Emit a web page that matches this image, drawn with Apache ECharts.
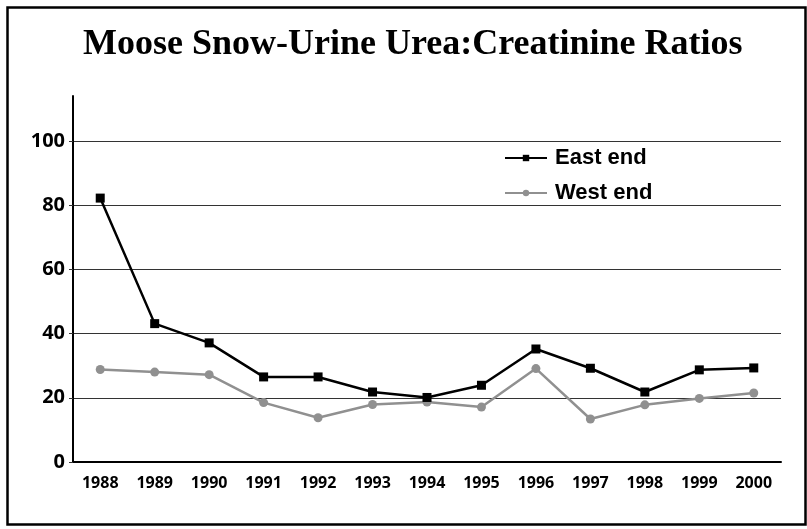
<!DOCTYPE html>
<html>
<head>
<meta charset="utf-8">
<script src="https://cdn.jsdelivr.net/npm/echarts@6/dist/echarts.min.js"></script>
<style>
html,body{margin:0;padding:0;background:#fff;}
#chart{width:807px;height:529px;}
</style>
</head>
<body>
<div id="chart"></div>
<script>
var years = ['1988','1989','1990','1991','1992','1993','1994','1995','1996','1997','1998','1999','2000'];
var eastEnd = [82.2, 43.1, 37.1, 26.5, 26.5, 21.8, 20.1, 23.9, 35.2, 29.2, 21.8, 28.7, 29.3];
var westEnd = [28.8, 28.0, 27.2, 18.5, 13.8, 17.9, 18.7, 17.1, 29.1, 13.4, 17.8, 19.8, 21.5];
var seriesNames = ['East end', 'West end'];
var titleText = 'Moose Snow-Urine Urea:Creatinine Ratios';

var chart = echarts.init(document.getElementById('chart'), null, {renderer: 'canvas'});
var option = {
  backgroundColor: '#fff',
  animation: false,
  title: {
    text: titleText,
    left: 83,
    top: 27,
    padding: 0,
    textStyle: {
      fontFamily: '"Liberation Serif", "DejaVu Serif", serif',
      fontWeight: 'bold',
      fontSize: 36,
      color: '#000'
    }
  },
  legend: {
    orient: 'vertical',
    left: 504,
    top: 147,
    padding: 0,
    itemWidth: 42,
    itemHeight: 8,
    itemGap: 13,
    data: seriesNames,
    textStyle: {
      fontFamily: 'Arial, "Liberation Sans", sans-serif',
      fontWeight: 'bold',
      fontSize: 22,
      lineHeight: 22,
      color: '#000',
      padding: [0, 0, 0, 3]
    }
  },
  grid: {
    left: 73,
    right: 26,
    top: 96,
    bottom: 67,
    containLabel: false
  },
  xAxis: {
    type: 'category',
    data: years,
    boundaryGap: true,
    axisLine: {show: true, lineStyle: {color: '#000', width: 2}},
    axisTick: {show: false},
    axisLabel: {
      margin: 13,
      fontFamily: '"Open Sans", "Noto Sans", sans-serif',
      fontWeight: 'bold',
      fontSize: 16,
      color: '#000'
    },
    splitLine: {show: false}
  },
  yAxis: {
    type: 'value',
    min: 0,
    max: 114,
    interval: 20,
    axisLine: {show: true, lineStyle: {color: '#000', width: 2}},
    axisTick: {show: true, length: 4, lineStyle: {color: '#333', width: 1}},
    axisLabel: {
      margin: 8,
      showMaxLabel: false,
      fontFamily: '"Open Sans", "Noto Sans", sans-serif',
      fontWeight: 'bold',
      fontSize: 20,
      color: '#000',
      formatter: function (v) { return v % 20 === 0 ? String(v) : ''; }
    },
    splitLine: {show: true, showMaxLine: false, lineStyle: {color: '#333', width: 1}}
  },
  series: [
    {
      name: seriesNames[0],
      type: 'line',
      data: eastEnd,
      symbol: 'rect',
      symbolSize: 9,
      itemStyle: {color: '#000'},
      lineStyle: {color: '#000', width: 2.5},
      z: 3
    },
    {
      name: seriesNames[1],
      type: 'line',
      data: westEnd,
      symbol: 'circle',
      symbolSize: 9,
      itemStyle: {color: '#909090'},
      lineStyle: {color: '#909090', width: 2.5},
      z: 2
    }
  ],
  graphic: [
    {
      type: 'rect',
      left: 5,
      top: 5,
      shape: {width: 798, height: 517},
      style: {fill: 'none', stroke: '#000', lineWidth: 2.5},
      silent: true
    }
  ]
};
chart.setOption(option);
</script>
</body>
</html>
